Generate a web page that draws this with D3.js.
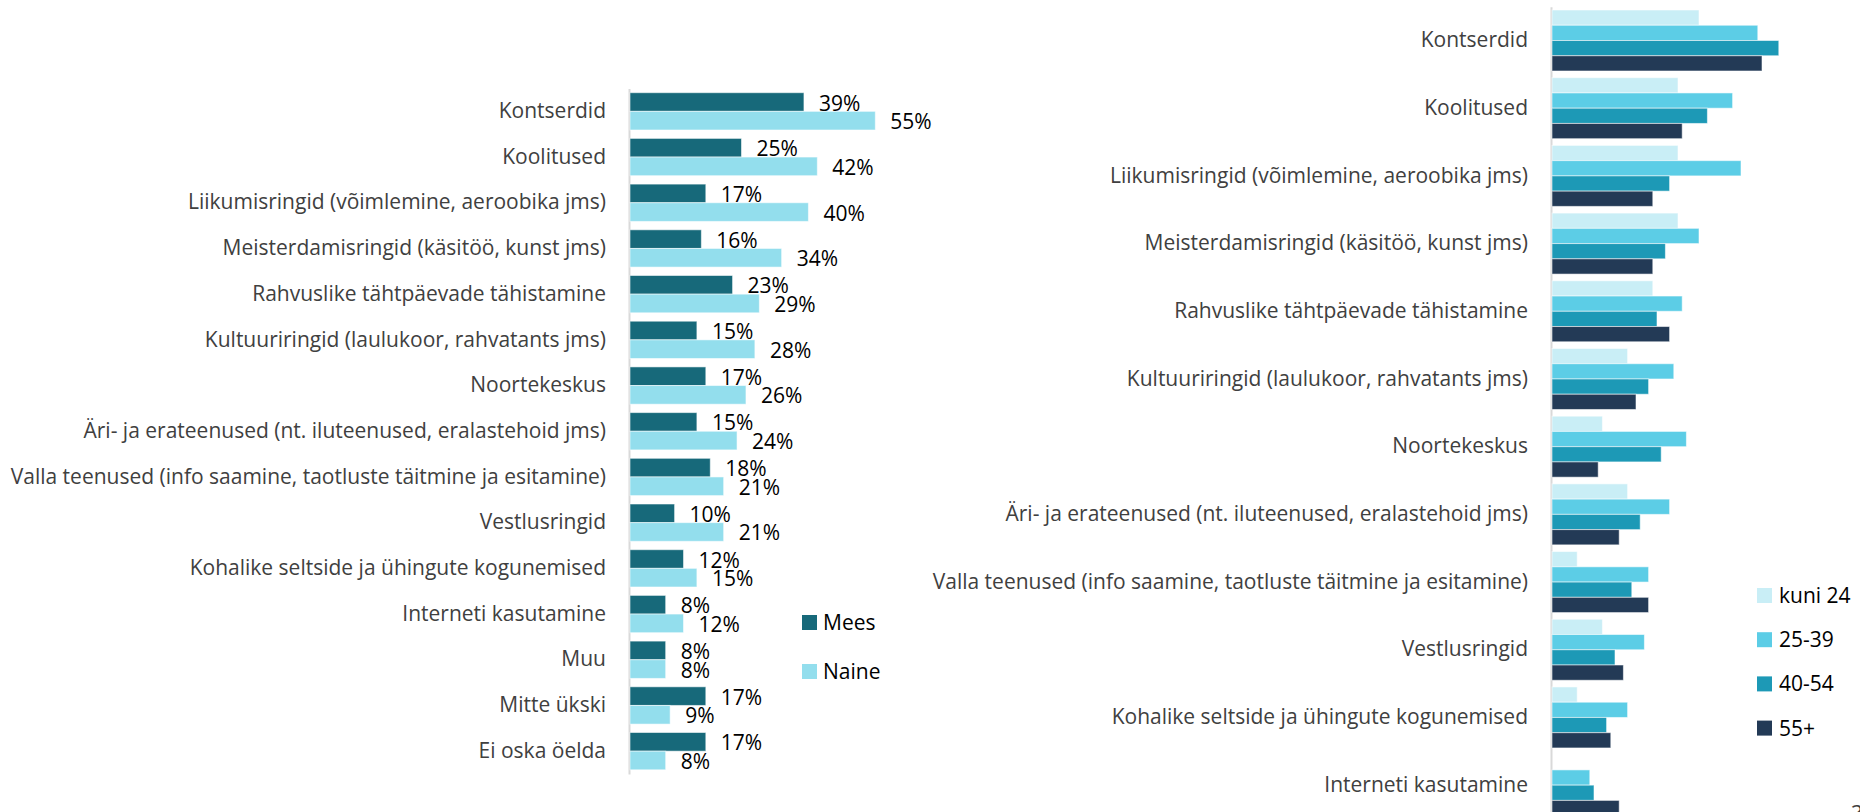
<!DOCTYPE html>
<html>
<head>
<meta charset="utf-8">
<script src="https://cdn.jsdelivr.net/npm/d3@7"></script>
<style>
  html, body { margin: 0; padding: 0; background: #fff; }
  svg { display: block; }
  text { font-family: "Open Sans", Lato, sans-serif; }
</style>
</head>
<body>
<svg id="chart" width="1860" height="812"></svg>
<script>
// ---- Left panel: by gender ----
const genderCategories = [
  "Kontserdid",
  "Koolitused",
  "Liikumisringid (võimlemine, aeroobika jms)",
  "Meisterdamisringid (käsitöö, kunst jms)",
  "Rahvuslike tähtpäevade tähistamine",
  "Kultuuriringid (laulukoor, rahvatants jms)",
  "Noortekeskus",
  "Äri- ja erateenused (nt. iluteenused, eralastehoid jms)",
  "Valla teenused (info saamine, taotluste täitmine ja esitamine)",
  "Vestlusringid",
  "Kohalike seltside ja ühingute kogunemised",
  "Interneti kasutamine",
  "Muu",
  "Mitte ükski",
  "Ei oska öelda"
];
const genderSeries = ["Mees", "Naine"];
const meesValues  = [39, 25, 17, 16, 23, 15, 17, 15, 18, 10, 12, 8, 8, 17, 17];
const naineValues = [55, 42, 40, 34, 29, 28, 26, 24, 21, 21, 15, 12, 8, 9, 8];

// ---- Right panel: by age group ----
const ageCategories = [
  "Kontserdid",
  "Koolitused",
  "Liikumisringid (võimlemine, aeroobika jms)",
  "Meisterdamisringid (käsitöö, kunst jms)",
  "Rahvuslike tähtpäevade tähistamine",
  "Kultuuriringid (laulukoor, rahvatants jms)",
  "Noortekeskus",
  "Äri- ja erateenused (nt. iluteenused, eralastehoid jms)",
  "Valla teenused (info saamine, taotluste täitmine ja esitamine)",
  "Vestlusringid",
  "Kohalike seltside ja ühingute kogunemised",
  "Interneti kasutamine"
];
const ageSeries = ["kuni 24", "25-39", "40-54", "55+"];
const kuni24Values = [35, 30, 30, 30, 24, 18, 12, 18, 6, 12, 6, 0];
const age2539Values = [49, 43, 45, 35, 31, 29, 32, 28, 23, 22, 18, 9];
const age4054Values = [54, 37, 28, 27, 25, 23, 26, 21, 19, 15, 13, 10];
const age55Values   = [50, 31, 24, 24, 28, 20, 11, 16, 23, 17, 14, 16];

const genderColors = { "Mees": "#17697a", "Naine": "#93deed" };
const ageColors = { "kuni 24": "#c9eef6", "25-39": "#5ccde6", "40-54": "#1d99b6", "55+": "#233a56" };

const svg = d3.select("#chart");
const FONT = 21;
const FAMILY = "'Open Sans', Lato, sans-serif";

// ================= Left chart =================
const genderRows = genderCategories.map((c, i) => ({
  cat: c, values: { "Mees": meesValues[i], "Naine": naineValues[i] }
}));

const yL = d3.scaleBand().domain(genderCategories)
  .range([88.5, 774]).paddingInner(0.184).paddingOuter(0.092);
const ySubL = d3.scaleBand().domain(genderSeries).range([0, yL.bandwidth()]);
const xL = d3.scaleLinear().domain([0, 60]).range([630, 630 + 60 * 4.46]);

const left = svg.append("g");

const axL = left.append("g")
  .attr("transform", "translate(629,0)")
  .call(d3.axisLeft(yL).tickSize(0).tickSizeOuter(0).tickPadding(23));
axL.select(".domain").attr("stroke", "#d9d9d9").attr("stroke-width", 2);
axL.selectAll(".tick text")
  .attr("font-family", FAMILY)
  .attr("font-size", FONT).attr("fill", "#404040");

const gL = left.selectAll("g.grp").data(genderRows).join("g")
  .attr("class", "grp")
  .attr("transform", d => `translate(0,${yL(d.cat)})`);

gL.selectAll("rect").data(d => genderSeries.map(s => ({ s, v: d.values[s] }))).join("rect")
  .attr("x", xL(0))
  .attr("y", d => ySubL(d.s))
  .attr("width", d => xL(d.v) - xL(0))
  .attr("height", ySubL.bandwidth())
  .attr("fill", d => genderColors[d.s])
  .attr("stroke", "rgba(255,255,255,0.55)")
  .attr("stroke-width", 1);

gL.selectAll("text.val").data(d => genderSeries.map(s => ({ s, v: d.values[s] }))).join("text")
  .attr("class", "val")
  .attr("x", d => xL(d.v) + 15)
  .attr("y", d => ySubL(d.s) + ySubL.bandwidth() / 2 + 8.5)
  .attr("font-family", FAMILY)
  .attr("font-size", FONT)
  .attr("fill", "#000")
  .text(d => d.v + "%");

// left legend
const legL = left.append("g").attr("transform", "translate(802,615)");
const legLItems = legL.selectAll("g").data(genderSeries).join("g")
  .attr("transform", (d, i) => `translate(0,${i * 49})`);
legLItems.append("rect").attr("width", 15).attr("height", 15)
  .attr("fill", d => genderColors[d]);
legLItems.append("text").attr("x", 21).attr("y", 15)
  .attr("font-family", FAMILY)
  .attr("font-size", FONT).attr("fill", "#000").text(d => d);

// ================= Right chart =================
const ageRows = ageCategories.map((c, i) => ({
  cat: c,
  values: {
    "kuni 24": kuni24Values[i], "25-39": age2539Values[i],
    "40-54": age4054Values[i], "55+": age55Values[i]
  }
}));

const yR = d3.scaleBand().domain(ageCategories)
  .range([6.65, 819]).paddingInner(0.099).paddingOuter(0.0495);
const ySubR = d3.scaleBand().domain(ageSeries).range([0, yR.bandwidth()]);
const xR = d3.scaleLinear().domain([0, 60]).range([1552, 1552 + 60 * 4.2]);

const right = svg.append("g");

const axR = right.append("g")
  .attr("transform", "translate(1551,0)")
  .call(d3.axisLeft(yR).tickSize(0).tickSizeOuter(0).tickPadding(23));
axR.select(".domain").attr("stroke", "#d9d9d9").attr("stroke-width", 2);
axR.selectAll(".tick text")
  .attr("font-family", FAMILY)
  .attr("font-size", FONT).attr("fill", "#404040");

const gR = right.selectAll("g.grp").data(ageRows).join("g")
  .attr("class", "grp")
  .attr("transform", d => `translate(0,${yR(d.cat)})`);

gR.selectAll("rect").data(d => ageSeries.map(s => ({ s, v: d.values[s] }))).join("rect")
  .attr("x", xR(0))
  .attr("y", d => ySubR(d.s))
  .attr("width", d => xR(d.v) - xR(0))
  .attr("height", ySubR.bandwidth())
  .attr("fill", d => ageColors[d.s])
  .attr("stroke", d => d.v > 0 ? "rgba(255,255,255,0.55)" : "none")
  .attr("stroke-width", 1);

// right legend
const legR = right.append("g").attr("transform", "translate(1757,588)");
const legRItems = legR.selectAll("g").data(ageSeries).join("g")
  .attr("transform", (d, i) => `translate(0,${i * 44.2})`);
legRItems.append("rect").attr("width", 15).attr("height", 15)
  .attr("fill", d => ageColors[d]);
legRItems.append("text").attr("x", 22).attr("y", 15)
  .attr("font-family", FAMILY)
  .attr("font-size", FONT).attr("fill", "#000").text(d => d);

// slide page number, partly below the visible area
svg.append("text").attr("x", 1851).attr("y", 821)
  .attr("font-family", FAMILY)
  .attr("font-size", FONT).attr("fill", "#404040").text("3");
</script>
</body>
</html>
